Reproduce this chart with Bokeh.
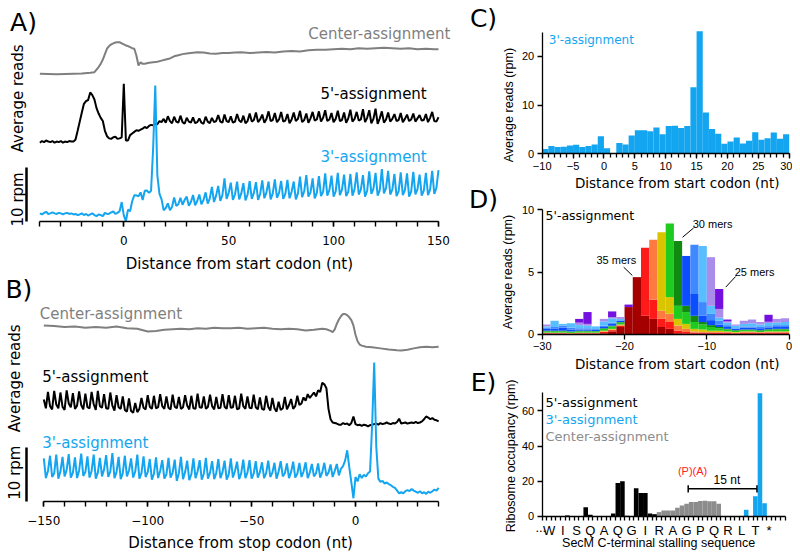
import math
from bokeh.plotting import figure
from bokeh.layouts import row, column
from bokeh.models import (Label, Range1d, FixedTicker, SingleIntervalTicker,
                          CustomJSTickFormatter, ColumnDataSource)
from bokeh.embed import file_html
from bokeh.resources import INLINE

# ------------------------------------------------------------------ data
# Panel C : 3'-assignment around the start codon (nt -10 .. 29)
c_pos = list(range(-10, 30))
c_vals = [1.0, 1.6, 1.4, 1.45, 1.7, 1.85, 1.4, 1.6, 1.9, 3.6,
          1.15, 0.05, 2.2, 1.9, 3.75, 4.85, 4.85, 4.65, 5.4, 4.0,
          5.7, 5.75, 5.3, 5.7, 13.7, 25.2, 8.5, 5.1, 4.1, 2.05,
          2.5, 3.35, 2.1, 2.7, 4.45, 2.9, 3.2, 4.4, 3.1, 4.0]

# Panel A : profiles around the start codon, nt -40 .. 150 (rpm)
a_pos = list(range(-40, 151))
a_3p_upstream = [1.5, 1.3, 1.6, 1.8, 1.4, 1.5, 1.7, 1.5, 1.4, 1.6,
                 1.5, 1.3, 1.5, 1.6, 1.4, 1.5, 1.3, 1.4, 1.2, 1.3,
                 1.5, 1.2, 1.4, 1.1, 1.3, 1.5, 1.2, 1.0, 1.3, 1.2]
a_3p_body = [4.6, 2.9, 3.6, 4.9, 3.0, 3.8, 5.0, 3.2, 4.0, 5.4, 3.3, 4.3,
             6.4, 3.6, 4.8, 6.6, 3.8, 4.9, 8.0, 4.2, 5.3, 7.2, 4.0, 5.0,
             7.4, 4.1, 5.2, 7.1, 3.9, 5.0, 7.5, 4.2, 5.3, 7.3, 4.0, 5.1,
             7.6, 4.3, 5.4, 7.4, 4.1, 5.2, 7.8, 4.4, 5.3, 7.5, 4.2, 5.1,
             7.7, 4.3, 5.5, 7.4, 4.1, 5.2, 8.3, 4.5, 5.6, 8.6, 4.6, 5.4,
             8.0, 4.3, 5.3, 8.4, 4.7, 5.5, 8.9, 4.8, 5.8, 8.5, 4.6, 5.6,
             9.0, 4.9, 5.9, 8.7, 4.7, 5.5, 8.8, 4.8, 6.0, 9.1, 5.0, 5.9,
             8.6, 4.6, 5.7, 9.3, 5.1, 6.1, 9.0, 4.8, 5.8, 9.7, 5.2, 6.2,
             9.4, 5.0, 5.9, 8.8, 4.7, 5.6, 9.1, 4.9, 5.8, 8.9, 4.6, 5.6,
             9.2, 5.0, 6.0, 8.7, 4.8, 5.7, 9.0, 4.9, 5.9, 9.4, 5.1, 6.2,
             9.5]
a_3prime = a_3p_upstream + c_vals + a_3p_body

a_5prime = ([0.6, 0.9, 0.7, 1.0, 0.8, 0.7, 0.9, 0.6, 0.8, 0.7, 0.9, 0.6, 0.8, 0.7, 0.9, 0.8, 0.8] +
            [1.2, 2.8, 4.5, 6.2, 7.8, 8.3, 8.5, 9.9, 9.4, 8.6, 7.0, 6.0, 5.2, 4.6, 2.8, 1.8,
             1.4, 1.3, 1.6, 1.7, 1.3, 1.4, 1.6] +
            [11.5] +
            [1.0, 1.0, 2.0, 2.3, 2.6, 2.9, 2.8, 3.0, 3.2, 3.5, 3.3, 3.7, 3.9, 3.8, 4.1, 4.0, 4.6, 4.4] +
            [5.0, 4.3, 5.5, 4.6, 4.2, 5.4, 4.5, 4.3, 5.6, 4.4, 4.1, 5.2,
             4.5, 4.3, 5.3, 4.2, 4.4, 5.1, 4.3, 4.1, 5.4, 4.5, 4.2, 5.2,
             4.4, 4.6, 5.7, 4.5, 4.3, 5.8, 4.6, 4.4, 5.5, 4.3, 4.5, 5.9,
             4.7, 4.4, 5.6, 4.2, 4.6, 6.0, 4.5, 4.8, 6.2, 4.4, 4.9, 5.8,
             4.3, 5.0, 6.4, 4.6, 4.8, 6.1, 4.4, 4.9, 6.3, 4.5, 4.7, 5.9,
             4.2, 4.9, 6.2, 4.6, 5.0, 6.5, 4.4, 4.8, 6.0, 4.3, 5.1, 6.3,
             4.7, 4.9, 6.4, 4.5, 5.2, 6.6, 4.6, 4.9, 6.1, 4.4, 5.0, 6.5,
             4.6, 4.8, 6.2, 4.3, 5.1, 6.7, 4.5, 5.0, 6.3, 4.7, 4.9, 6.8,
             4.4, 5.2, 6.6, 4.2, 5.0, 6.9, 4.1, 5.1, 6.4, 4.3, 4.9, 6.2,
             4.5, 5.0, 5.9, 4.6, 4.8, 6.1, 4.4, 5.0, 5.8, 4.6, 4.9, 6.0,
             4.5, 5.1, 5.7, 4.7, 4.8, 5.9, 4.4, 5.2, 6.3, 4.6, 4.5, 5.3])

a_center_x = [-40, -36, -32, -28, -24, -20, -16, -14, -12, -11, -10, -9, -8, -7, -6, -5, -4, -3,
              -2, -1, 0, 1, 2, 3, 4, 5, 6, 7, 8, 9, 10, 12, 14, 16, 18, 20, 22, 24, 26, 28,
              30, 32, 35, 38, 41, 44, 47, 50, 53, 56, 60, 64, 68, 72, 76, 80, 84, 88, 92, 96,
              100, 104, 108, 112, 116, 120, 124, 128, 132, 136, 140, 144, 148, 150]
a_center_y = [0.35, 0.3, 0.25, 0.3, 0.35, 0.4, 0.55, 0.65, 1.6, 2.2, 3.0, 4.0, 5.0, 5.5, 5.8, 6.0,
              6.15, 6.2, 6.2, 6.0, 5.8, 5.6, 5.5, 5.3, 5.1, 5.0, 3.75, 1.9, 2.5, 2.2, 2.2, 2.4,
              2.5, 2.6, 2.8, 3.0, 3.2, 3.6, 3.8, 4.0, 4.1, 4.2, 4.35, 4.3, 4.1, 4.05, 4.2, 4.2,
              4.3, 4.35, 4.2, 4.3, 4.4, 4.3, 4.5, 4.6, 4.5, 4.7, 4.8, 4.8, 4.9, 5.0, 4.9, 5.1,
              5.0, 5.1, 5.2, 5.1, 5.0, 5.1, 4.9, 5.0, 4.9, 4.9]

# Panel B : profiles around the stop codon, nt -150 .. 40 (rpm)
b_pos = list(range(-150, 41))
b_3prime = ([7.9, 4.3, 5.6, 8.4, 4.5, 5.2, 8.6, 4.2, 5.5, 8.2, 4.6, 5.8,
             8.7, 4.4, 5.3, 8.1, 4.3, 5.7, 8.8, 4.7, 5.4, 8.3, 4.4, 5.6,
             8.6, 4.2, 5.3, 8.0, 4.6, 5.9, 8.5, 4.5, 5.5, 8.9, 4.3, 5.4,
             8.2, 4.1, 5.2, 8.4, 4.6, 5.7, 7.9, 4.4, 5.5, 8.6, 4.2, 5.2,
             8.3, 4.5, 5.4, 7.8, 4.0, 5.1, 8.1, 4.3, 5.6, 7.6, 4.2, 5.0,
             8.0, 4.4, 5.3, 7.7, 3.8, 5.2, 8.2, 4.1, 5.4, 7.5, 3.9, 5.0,
             7.9, 4.3, 5.5, 7.6, 4.0, 5.1, 8.0, 4.2, 5.3, 7.4, 4.1, 5.2,
             7.8, 4.3, 5.4, 7.5, 4.0, 5.0, 7.9, 4.4, 5.6, 7.3, 4.1, 5.2,
             7.7, 4.3, 5.3, 7.6, 4.2, 5.1, 7.4, 4.4, 5.4, 7.2, 4.3, 5.2,
             7.5, 4.5, 5.3, 7.1, 4.2, 5.5, 7.4, 4.6, 5.2, 7.0, 4.3, 5.4,
             7.3, 4.4, 5.1, 7.1, 4.5, 5.5, 7.2, 4.3, 5.3, 6.9, 4.6, 5.2,
             7.0, 4.4, 5.4, 7.1, 4.7, 5.3, 6.8, 4.5, 5.6, 6.9, 4.8, 6.0] +
            [6.5, 7.5, 9.4, 6.3, 3.5, 0.6] +
            [4.5, 3.7, 5.0, 4.3, 4.9, 4.6, 5.2, 5.5, 14.0, 25.5, 10.0, 4.2, 3.6, 3.8, 3.3, 3.5,
             3.2, 3.0, 2.7, 2.5, 2.0, 1.5, 1.7, 1.5, 1.9, 2.1, 1.9, 2.3, 2.0, 1.8, 1.6, 1.9,
             1.5, 1.7, 1.4, 1.8, 1.6, 1.9, 2.2, 2.0, 2.5])
b_5prime = ([5.2, 3.6, 6.6, 4.0, 3.4, 6.8, 4.3, 3.6, 6.5, 3.9, 3.3, 6.9,
             4.5, 3.8, 6.4, 3.5, 4.1, 6.7, 4.2, 3.4, 6.3, 3.8, 3.6, 6.6,
             4.4, 3.3, 6.8, 4.0, 3.7, 6.2, 3.6, 3.5, 6.5, 4.1, 3.2, 6.0,
             3.8, 3.5, 5.8, 3.3, 3.0, 5.4, 3.1, 2.8, 4.6, 2.9, 3.5, 5.5,
             3.7, 3.4, 6.0, 3.9, 3.5, 5.9, 3.6, 3.8, 6.2, 4.0, 3.5, 5.8,
             3.7, 3.4, 6.1, 3.9, 3.6, 5.7, 3.5, 3.8, 6.0, 4.1, 3.4, 5.9,
             3.6, 3.5, 6.3, 3.8, 3.7, 5.8, 3.5, 3.9, 6.1, 4.0, 3.4, 5.7,
             3.6, 3.7, 6.2, 3.9, 3.5, 6.0, 3.7, 3.8, 5.9, 3.4, 3.6, 6.3,
             4.0, 3.5, 5.8, 3.7, 3.6, 6.1, 3.8, 3.4, 5.6, 3.5, 3.3, 5.9,
             3.9, 3.2, 5.5, 3.6, 3.0, 4.8, 3.3, 3.6, 5.7, 3.4, 4.2, 5.3,
             3.5, 4.0, 5.9, 4.2, 4.5, 5.6] +
            [5.0, 6.2, 5.5, 6.0, 6.5, 5.8, 6.9, 6.6, 8.3, 8.0, 7.3, 3.5, 1.6, 1.0, 0.9, 0.8,
             0.6, 0.6, 0.9, 0.7, 0.8, 0.5, 0.9, 2.1, 0.7] +
            [0.5, 0.6, 0.4, 0.6, 0.5, 0.3, 0.5, 0.6, 0.7, 0.8,
             0.6, 0.9, 0.7, 0.8, 1.0, 0.8, 0.7, 0.9, 0.8, 1.1,
             1.7, 0.8, 0.9, 1.0, 0.8, 0.9, 1.0, 0.9, 1.1, 0.9,
             1.0, 1.2, 1.6, 2.1, 1.9, 1.6, 1.8, 1.5, 1.4, 1.2])
b_center_x = [-150, -145, -140, -135, -130, -125, -120, -115, -110, -105, -100, -96, -92, -88,
              -84, -80, -76, -72, -68, -64, -60, -56, -52, -48, -44, -40, -36, -32, -28, -24,
              -20, -16, -14, -12, -11, -10, -9, -8, -7, -6, -5, -4, -3, -2, -1, 0, 1, 2, 3,
              5, 8, 12, 16, 20, 22, 25, 28, 31, 34, 37, 40]
b_center_y = [5.3, 5.2, 5.0, 5.1, 4.9, 5.0, 4.9, 5.1, 4.8, 4.7, 4.2, 4.3, 4.5, 4.6, 4.7, 4.6,
              4.8, 4.7, 4.9, 4.8, 4.8, 4.9, 4.7, 4.8, 4.9, 4.7, 4.6, 4.7, 4.6, 4.4, 4.5, 4.7,
              4.6, 4.3, 4.1, 4.6, 5.6, 6.4, 7.0, 7.4, 7.4, 7.2, 6.8, 6.3, 5.3, 3.6, 2.4, 1.8,
              1.6, 1.4, 1.3, 1.1, 0.9, 0.75, 0.7, 0.85, 1.1, 1.3, 1.4, 1.3, 1.4]

# Panel D : 5'-assignment by read length, nt -30 .. -1 (stack bottom = 35 mers)
d_pos = list(range(-30, 0))
d_lengths = ["35", "34", "33", "32", "31", "30", "29", "28", "27", "26", "25"]
d_35 = [0.03, 0.05, 0.05, 0.03, 0.05, 0.05, 0.05, 0.10, 0.25, 0.60, 2.20, 4.60, 1.50, 1.25, 0.60,
        0.45, 0.10, 0.05, 0.05, 0.05, 0.05, 0.05, 0.05, 0.03, 0.05, 0.05, 0.05, 0.05, 0.05, 0.05]
d_34 = [0.07, 0.05, 0.05, 0.05, 0.05, 0.05, 0.05, 0.10, 0.10, 0.10, 0, 0, 5.45, 1.55, 0.65,
        0.55, 0.22, 0.15, 0.10, 0.10, 0.10, 0.10, 0.10, 0.07, 0.10, 0.10, 0.10, 0.10, 0.10, 0.10]
d_33 = [0.02, 0.02, 0.03, 0.02, 0.02, 0.03, 0.02, 0.05, 0.05, 0.05, 0, 0, 0, 4.80, 0.65,
        0.66, 0.40, 0.25, 0.10, 0.05, 0.05, 0.05, 0.05, 0.05, 0.05, 0.05, 0.03, 0.05, 0.05, 0.05]
d_32 = [0.03, 0.03, 0.02, 0.03, 0.03, 0.02, 0.03, 0.05, 0.05, 0.05, 0, 0, 0, 0, 6.30,
        1.34, 0.53, 0.40, 0.20, 0.20, 0.10, 0.10, 0.05, 0.05, 0.05, 0.05, 0.02, 0.05, 0.05, 0.05]
d_31 = [0.10, 0.12, 0.10, 0.10, 0.10, 0.10, 0.10, 0.15, 0.20, 0.15, 0, 0, 0, 0, 0,
        5.90, 1.05, 0.95, 0.55, 0.40, 0.30, 0.20, 0.15, 0.10, 0.10, 0.10, 0.10, 0.12, 0.15, 0.15]
d_30 = [0.05, 0.03, 0.05, 0.02, 0.05, 0.05, 0.03, 0.05, 0.05, 0.05, 0, 0, 0, 0, 0,
        0, 5.20, 0.50, 0.50, 0.20, 0.15, 0.10, 0.05, 0.05, 0.05, 0.05, 0.05, 0.05, 0.05, 0.05]
d_29 = [0.15, 0.15, 0.25, 0.15, 0.10, 0.10, 0.08, 0.10, 0.15, 0.10, 0, 0, 0, 0, 0,
        0, 0, 4.00, 1.75, 0.50, 0.40, 0.20, 0.15, 0.10, 0.15, 0.15, 0.15, 0.15, 0.15, 0.15]
d_28 = [0.10, 0.15, 0.15, 0.15, 0.10, 0.10, 0.07, 0.10, 0.10, 0.05, 0, 0, 0, 0, 0,
        0, 0, 0, 3.95, 1.10, 0.50, 0.30, 0.15, 0.05, 0.10, 0.10, 0.10, 0.10, 0.15, 0.15]
d_27 = [0.10, 0.50, 0.15, 0.35, 0.25, 0.20, 0.22, 0.35, 0.35, 0.10, 0, 0, 0, 0, 0,
        0, 0, 0, 0, 4.50, 0.65, 0.25, 0.20, 0.20, 0.20, 0.25, 0.20, 0.25, 0.20, 0.25]
d_26 = [0.15, 0, 0, 0, 0.20, 0.15, 0, 0.20, 0.10, 0.15, 0, 0, 0, 0, 0,
        0, 0, 0, 0, 0, 3.90, 0.70, 0.10, 0.10, 0.25, 0.30, 0.20, 0.10, 0.30, 0.30]
d_25 = [0, 0, 0, 0, 0.30, 0.95, 0, 0, 0.45, 0, 0.20, 0, 0, 0, 0,
        0, 0, 0, 0, 0, 0, 1.60, 0.15, 0, 0, 0, 0, 0.56, 0, 0]
d_colors = ["#A50000", "#FF1A1A", "#FF7A40", "#D9C400", "#1FCB1F", "#118A11",
            "#0B4DFF", "#3F88FF", "#59BEFF", "#AA8CEB", "#7511DF"]
d_annot_text = ["35 mers", "30 mers", "25 mers"]
d_annot_x = [-21.0, -9.3, -4.2]
d_annot_y = [6.0, 8.9, 5.05]
d_lead_x0 = [-20.1, -11.6, -6.5]
d_lead_y0 = [5.4, 8.55, 4.65]
d_lead_x1 = [-19.05, -12.95, -7.7]
d_lead_y1 = [4.73, 7.8, 3.8]

# Panel E : SecM C-terminal stalling sequence (nt along the axis)
e_codons = ["W", "I", "S", "Q", "A", "Q", "G", "I", "R", "A", "G", "P", "Q", "R", "L", "T", "*"]
e_black_pos = [5, 9, 10, 15, 16, 17, 18, 20, 21, 22, 23, 24]
e_black_val = [0.6, 5.3, 1.0, 1.7, 19.0, 20.0, 0.4, 16.0, 13.3, 13.3, 1.7, 1.3]
e_gray_pos = [24, 25, 26, 27, 28, 29, 30, 31, 32, 33, 34, 35, 36, 37, 38]
e_gray_val = [1.0, 2.5, 3.4, 3.4, 3.4, 5.0, 6.3, 7.2, 8.2, 8.3, 8.8, 8.9, 8.6, 8.6, 7.2]
e_blue_pos = [44, 46, 47, 48]
e_blue_val = [3.8, 11.5, 70.0, 7.5]
e_bracket_start = 31.85
e_bracket_nt = 15
e_bracket_y = 15.7

# ------------------------------------------------------------------ style
BLUE = "#14A5F0"
GRAY = "#7F7F7F"
EGRAY = "#8C8C8C"
BLACK = "#000000"
SANS = "DejaVu Sans"
HELV = "Liberation Sans"
OFF_CENTER = 27.0
OFF_5_A = 14.0
OFF_5_B = 13.5


def make_fig(w, h, xr, yr):
    p = figure(width=w, height=h, x_range=Range1d(*xr), y_range=Range1d(*yr), title=None,
               min_border=0, min_border_left=0, min_border_right=0, min_border_top=0,
               min_border_bottom=0, toolbar_location=None, output_backend="svg")
    p.grid.visible = False
    p.outline_line_color = None
    p.background_fill_color = "white"
    p.border_fill_color = "white"
    return p


def style_axis(ax, font, size, standoff, loc, bounds, tick_out=5, minor_out=0, lw=1.3):
    ax.fixed_location = loc
    ax.bounds = bounds
    ax.major_tick_in = 0
    ax.minor_tick_in = 0
    ax.major_tick_out = tick_out
    ax.minor_tick_out = minor_out
    ax.axis_line_color = BLACK
    ax.major_tick_line_color = BLACK
    ax.minor_tick_line_color = BLACK
    ax.axis_line_width = lw
    ax.major_tick_line_width = lw
    ax.minor_tick_line_width = lw
    ax.major_label_text_font = font
    ax.major_label_text_font_size = size
    ax.major_label_text_color = BLACK
    ax.major_label_standoff = standoff
    ax.axis_label = None


def lab(p, x, y, text, size, color=BLACK, font=SANS, align="left", baseline="middle", angle=0.0):
    p.add_layout(Label(x=x, y=y, text=text, text_font=font, text_font_size=size,
                       text_color=color, text_align=align, text_baseline=baseline, angle=angle))


def scale_bar(p, loc):
    ay = p.yaxis[0]
    ay.fixed_location = loc
    ay.bounds = (0, 10)
    ay.ticker = FixedTicker(ticks=[])
    ay.major_tick_out = 0
    ay.minor_tick_out = 0
    ay.axis_line_width = 2.5
    ay.axis_line_color = BLACK
    ay.major_label_text_font_size = "0px"
    ay.axis_label = None


# ------------------------------------------------------------------ panel A
pA = make_fig(460, 275, (-58.77, 160.49), (-10.0, 40.93))
style_axis(pA.xaxis[0], SANS, "12px", 9, 0, (-40, 150), tick_out=5, minor_out=5, lw=1.4)
pA.xaxis[0].ticker = SingleIntervalTicker(interval=50, num_minor_ticks=5)
scale_bar(pA, -46.4)
pA.line(a_center_x, [v + OFF_CENTER for v in a_center_y], line_color=GRAY, line_width=2)
pA.line(a_pos, [v + OFF_5_A for v in a_5prime], line_color=BLACK, line_width=2)
pA.line(a_pos, a_3prime, line_color=BLUE, line_width=2)
lab(pA, -47.8, 36.9, "A)", "25px", align="center")
lab(pA, 155.7, 34.8, "Center-assignment", "15px", color=GRAY, align="right")
lab(pA, 144.4, 23.7, "5'-assignment", "15px", align="right")
lab(pA, 144.4, 11.9, "3'-assignment", "15px", color=BLUE, align="right")
lab(pA, -50.2, 22.8, "Average reads", "15px", align="center", angle=math.pi / 2)
lab(pA, -50.2, 4.1, "10 rpm", "15px", align="center", angle=math.pi / 2)
lab(pA, 55.1, -7.8, "Distance from start codon (nt)", "15px", align="center")

# ------------------------------------------------------------------ panel B
pB = make_fig(460, 276, (-170.84, 50.53), (-9.17, 41.47))
style_axis(pB.xaxis[0], SANS, "12px", 9, 0, (-150, 40), tick_out=5, minor_out=5, lw=1.4)
pB.xaxis[0].ticker = SingleIntervalTicker(interval=50, num_minor_ticks=5)
scale_bar(pB, -158.3)
pB.line(b_center_x, [v + OFF_CENTER for v in b_center_y], line_color=GRAY, line_width=2)
pB.line(b_pos, [v + OFF_5_B for v in b_5prime], line_color=BLACK, line_width=2)
pB.line(b_pos, b_3prime, line_color=BLUE, line_width=2)
lab(pB, -162.0, 38.9, "B)", "25px", align="center")
lab(pB, -151.9, 34.4, "Center-assignment", "15px", color=GRAY)
lab(pB, -150.8, 22.8, "5'-assignment", "15px")
lab(pB, -150.8, 10.8, "3'-assignment", "15px", color=BLUE)
lab(pB, -164.1, 22.6, "Average reads", "15px", align="center", angle=math.pi / 2)
lab(pB, -164.1, 5.3, "10 rpm", "15px", align="center", angle=math.pi / 2)
lab(pB, -55.3, -7.6, "Distance from stop codon (nt)", "15px", align="center")

# ------------------------------------------------------------------ letter strip
pS = make_fig(40, 551, (0, 40), (551, 0))
pS.xaxis.visible = False
pS.yaxis.visible = False
for txt, yy in (("C)", 18), ("D)", 199), ("E)", 382)):
    lab(pS, 23, yy, txt, "25px", align="center")

# ------------------------------------------------------------------ panel C
pC = make_fig(292, 194, (-16.75, 30.53), (-8.37, 31.51))
style_axis(pC.xaxis[0], HELV, "11px", 3, 0, (-10, 30), tick_out=5, minor_out=4)
pC.xaxis[0].ticker = SingleIntervalTicker(interval=5, num_minor_ticks=5)
style_axis(pC.yaxis[0], HELV, "11px", 3, -10, (0, 25), tick_out=5)
pC.yaxis[0].ticker = FixedTicker(ticks=[0, 10, 20])
pC.vbar(x=[k + 0.5 for k in c_pos], top=c_vals, width=1, fill_color=BLUE, line_color=None)
lab(pC, -8.93, 23.4, "3'-assignment", "12px", color=BLUE)
lab(pC, 11.86, -6.1, "Distance from start codon (nt)", "13.5px", align="center")
lab(pC, -15.45, 10.0, "Average reads (rpm)", "12.5px", font=HELV, align="center", angle=math.pi / 2)

# ------------------------------------------------------------------ panel D
pD = make_fig(292, 180, (-35.07, 0.41), (-3.21, 11.23))
style_axis(pD.xaxis[0], HELV, "11px", 3, 0, (-30, 0), tick_out=5)
pD.xaxis[0].ticker = FixedTicker(ticks=[-30, -20, -10, 0])
style_axis(pD.yaxis[0], HELV, "11px", 3, -30, (0, 10), tick_out=5)
pD.yaxis[0].ticker = FixedTicker(ticks=[0, 5, 10])
d_src = ColumnDataSource(dict(x=[k + 0.5 for k in d_pos],
                              L35=d_35, L34=d_34, L33=d_33, L32=d_32, L31=d_31, L30=d_30,
                              L29=d_29, L28=d_28, L27=d_27, L26=d_26, L25=d_25))
pD.vbar_stack(["L" + n for n in d_lengths], x="x", width=1, fill_color=d_colors,
              line_color=None, source=d_src)
pD.segment(x0=d_lead_x0, y0=d_lead_y0, x1=d_lead_x1, y1=d_lead_y1, line_color=BLACK, line_width=1)
for t, xx, yy in zip(d_annot_text, d_annot_x, d_annot_y):
    lab(pD, xx, yy, t, "11px", font=HELV, align="center")
lab(pD, -29.6, 9.55, "5'-assignment", "12.5px")
lab(pD, -13.6, -2.35, "Distance from start codon (nt)", "13.5px", align="center")
lab(pD, -34.1, 5.01, "Average reads (rpm)", "12.5px", font=HELV, align="center", angle=math.pi / 2)

# ------------------------------------------------------------------ panel E
pE = make_fig(292, 177, (-9.09, 54.6), (-19.89, 80.68))
style_axis(pE.xaxis[0], HELV, "13px", 3, 0, (0, 53), tick_out=0, minor_out=4)
pE.xaxis[0].ticker = FixedTicker(ticks=[1.5 + 3 * i for i in range(len(e_codons))],
                                 minor_ticks=list(range(0, 54)))
pE.xaxis[0].formatter = CustomJSTickFormatter(
    args=dict(labels=e_codons),
    code="const i = Math.round((tick - 1.5) / 3); return (i >= 0 && i < labels.length) ? labels[i] : '';")
style_axis(pE.yaxis[0], HELV, "11px", 3, 0, (0, 70.5), tick_out=5)
pE.yaxis[0].ticker = FixedTicker(ticks=[0, 20, 40, 60])
pE.vbar(x=[k + 0.5 for k in e_gray_pos], top=e_gray_val, width=1, fill_color=EGRAY, line_color=None)
pE.vbar(x=[k + 0.5 for k in e_black_pos], top=e_black_val, width=1, fill_color=BLACK, line_color=None)
pE.vbar(x=[k + 0.5 for k in e_blue_pos], top=e_blue_val, width=1, fill_color=BLUE, line_color=None)
br_x0 = [e_bracket_start, e_bracket_start, e_bracket_start + e_bracket_nt]
br_x1 = [e_bracket_start + e_bracket_nt, e_bracket_start, e_bracket_start + e_bracket_nt]
br_y0 = [e_bracket_y, e_bracket_y - 2, e_bracket_y - 2]
br_y1 = [e_bracket_y, e_bracket_y + 2, e_bracket_y + 2]
pE.segment(x0=br_x0, y0=br_y0, x1=br_x1, y1=br_y1, line_color=BLACK, line_width=1.5)
lab(pE, -0.3, -6.0, "...", "13px", font=HELV, align="center")
lab(pE, 0.72, 64.6, "5'-assignment", "13px")
lab(pE, 0.72, 54.9, "3'-assignment", "13px", color=BLUE)
lab(pE, 0.72, 45.7, "Center-assignment", "13px", color=EGRAY)
lab(pE, 32.8, 26.1, "(P)(A)", "11px", color="#FF2020", font=HELV, align="center")
lab(pE, 40.3, 20.5, "15 nt", "12px", font=HELV, align="center")
lab(pE, 25.4, -15.3, "SecM C-terminal stalling sequence", "12.5px", font=HELV, align="center")
lab(pE, -6.7, 34.4, "Ribosome occupancy (rpm)", "12.5px", font=HELV, align="center", angle=math.pi / 2)

# ------------------------------------------------------------------ layout
layout = row(column(pA, pB), pS, column(pC, pD, pE))
open("out.html", "w").write(file_html(layout, INLINE))
